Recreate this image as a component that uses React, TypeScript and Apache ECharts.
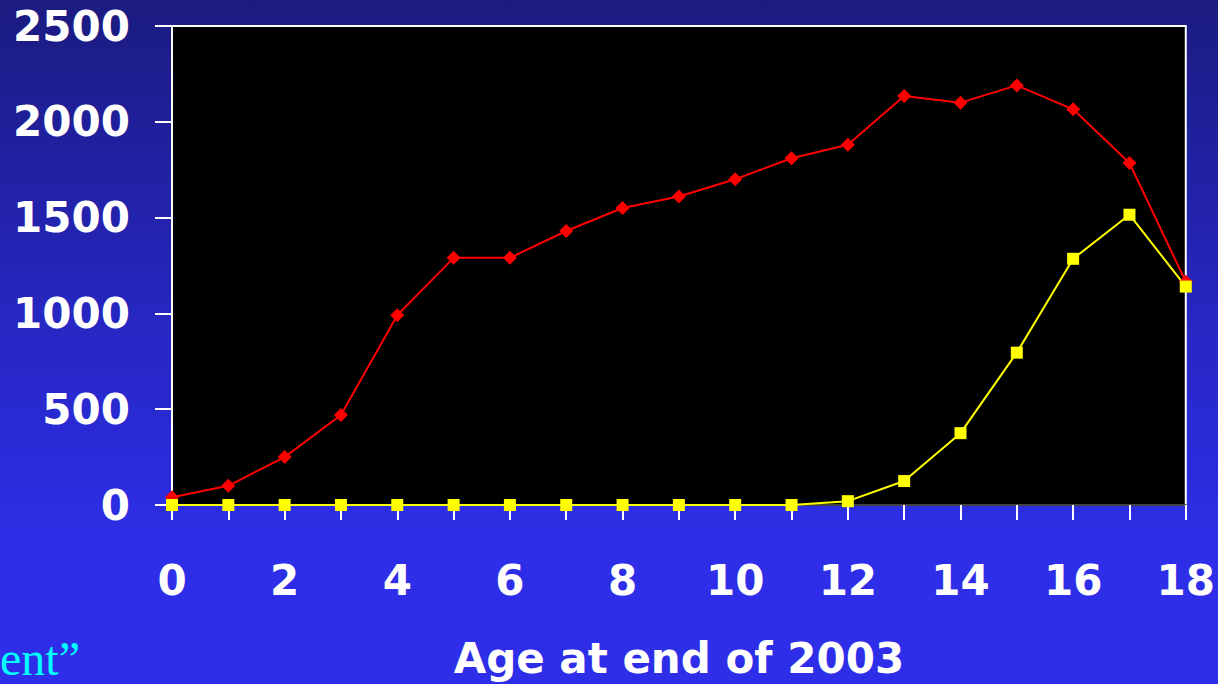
import React, { useEffect, useRef } from "react";
import * as echarts from "echarts";

const ages = ["0","1","2","3","4","5","6","7","8","9","10","11","12","13","14","15","16","17","18"];
const redSeries = [40, 100, 250, 470, 990, 1290, 1290, 1430, 1550, 1610, 1700, 1810, 1880, 2135, 2100, 2190, 2065, 1785, 1165];
const yellowSeries = [0, 0, 0, 0, 0, 0, 0, 0, 0, 0, 0, 0, 20, 125, 375, 795, 1285, 1515, 1140];
const xAxisTitle = "Age at end of 2003";
const cornerText = "ent\u201D";

export default function App() {
  const ref = useRef<HTMLDivElement>(null);
  useEffect(() => {
    document.body.style.margin = "0";
    const chart = echarts.init(ref.current!, null, { renderer: "svg" });
    const font = "'DejaVu Sans', Verdana, sans-serif";
    chart.setOption({
      animation: false,
      backgroundColor: "transparent",
      grid: {
        left: 172, right: 32, top: 26, bottom: 179,
        show: true, backgroundColor: "#000000", borderColor: "#ffffff", borderWidth: 2,
      },
      xAxis: {
        type: "category",
        data: ages,
        boundaryGap: false,
        name: xAxisTitle,
        nameLocation: "middle",
        nameGap: 132,
        nameTextStyle: { color: "#ffffff", fontSize: 42, fontWeight: "bold", fontFamily: font },
        axisLine: { show: true, lineStyle: { color: "#444444", width: 2 } },
        axisTick: { show: true, interval: 0, length: 15, lineStyle: { color: "#ffffff", width: 2 } },
        axisLabel: { interval: 1, color: "#ffffff", fontSize: 42, fontWeight: "bold", fontFamily: font, margin: 54 },
        splitLine: { show: false },
      },
      yAxis: {
        type: "value",
        min: 0, max: 2500, interval: 500,
        axisLine: { show: true, lineStyle: { color: "#ffffff", width: 2 } },
        axisTick: { show: true, length: 17, lineStyle: { color: "#ffffff", width: 2 } },
        axisLabel: {
          color: "#ffffff", fontSize: 42, fontWeight: "bold", fontFamily: font, margin: 42,
          formatter: (v: number) => String(v),
        },
        splitLine: { show: false },
      },
      series: [
        {
          type: "line", data: redSeries, symbol: "diamond", symbolSize: 14, clip: false,
          lineStyle: { color: "#ff0000", width: 2 }, itemStyle: { color: "#ff0000" },
        },
        {
          type: "line", data: yellowSeries, symbol: "rect", symbolSize: 12, clip: false,
          lineStyle: { color: "#ffff00", width: 2 }, itemStyle: { color: "#ffff00" },
        },
      ],
      graphic: [
        {
          type: "text", left: 0, top: 634,
          style: { text: cornerText, fill: "#00ffff", fontSize: 48, fontFamily: "'Liberation Serif', 'Times New Roman', serif" },
        },
      ],
    });
    return () => chart.dispose();
  }, []);
  return (
    <div
      style={{
        position: "absolute", left: 0, top: 0, width: 1218, height: 684,
        background: "linear-gradient(to bottom, #1b1b80 0%, #2626c0 45%, #2e2ee8 80%, #2e2ee8 100%)",
      }}
    >
      <div ref={ref} style={{ width: 1218, height: 684 }} />
    </div>
  );
}
